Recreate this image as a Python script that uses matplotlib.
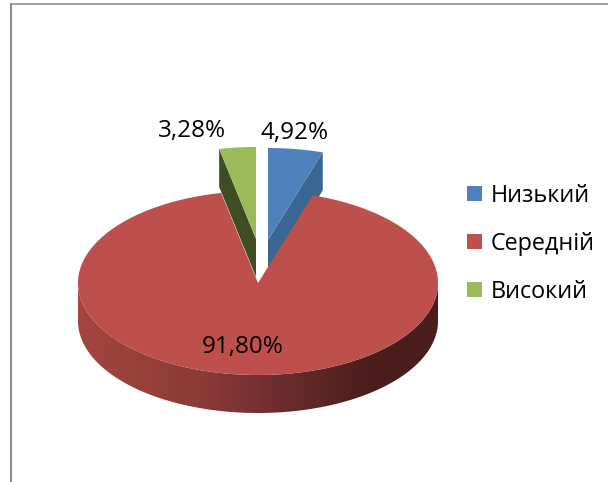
import numpy as np
import matplotlib
matplotlib.use('Agg')
import matplotlib.pyplot as plt
from matplotlib.colors import LinearSegmentedColormap
from matplotlib.patches import Polygon

categories = ['Низький', 'Середній', 'Високий']
values = [4.92, 91.80, 3.28]
colors = ['#4f81bd', '#bd4f4c', '#9bbb59']
dark = ['#3a6692', '#4a1d1b', '#3f4d24']

plt.rcParams['font.family'] = ['Open Sans', 'DejaVu Sans']

# pie geometry, in pixels of the picture
cx, cy = 258, 283
rx, ry = 180, 92
depth = 38
shift = {0: (10, -43), 2: (-2, -44)}  # exploded slices


def rim(a1, a2, x0, y0, n=200):
    t = np.radians(np.linspace(a1, a2, n))
    return x0 + rx*np.sin(t), y0 - ry*np.cos(t)


fig = plt.figure(figsize=(6.08, 4.82), dpi=100)
ax = fig.add_axes([0, 0, 1, 1])
ax.set_xlim(0, 608)
ax.set_ylim(482, 0)
ax.axis('off')

# frame of the chart area
ax.plot([11, 608], [3.7, 3.7], color='#a0a0a0', lw=1.4, solid_capstyle='butt')
ax.plot([11, 11], [482, 3], color='#8c8c8c', lw=1.5, solid_capstyle='butt')

edges = np.cumsum([0] + values) / sum(values) * 360

# small slices first, the big one covers their lower part
for i in [0, 2]:
    dx, dy = shift[i]
    x0, y0 = cx + dx, cy + dy
    xs, ys = rim(edges[i], edges[i+1], x0, y0)
    if i == 0:
        k = -1
    else:
        k = 0
    # inner wall
    wall = [(x0, y0), (xs[k], ys[k]), (xs[k], ys[k]+depth), (x0, y0+depth)]
    ax.add_patch(Polygon(wall, fc=dark[i], ec='none', zorder=2))
    top = np.column_stack([np.r_[x0, xs], np.r_[y0, ys]])
    ax.add_patch(Polygon(top, fc=colors[i], ec='none', zorder=3))

# side of the big slice with its gradient
xs, ys = rim(90, 270, cx, cy)
side = np.column_stack([np.r_[xs, xs[::-1]], np.r_[ys, ys[::-1]+depth]])
clip = Polygon(side, fc='none', ec='none', transform=ax.transData)
ax.add_patch(clip)
cmap = LinearSegmentedColormap.from_list('side', [(0, '#a4453f'), (0.35, '#8a3a37'),
                                                  (0.62, '#64292a'), (0.8, '#4b1d1b'), (1, '#4a1d1b')])
im = ax.imshow(np.linspace(0, 1, 256).reshape(1, -1), cmap=cmap, aspect='auto',
               extent=[cx-rx, cx+rx, cy+ry+depth+2, cy-2], zorder=4)
im.set_clip_path(clip)
ax.set_xlim(0, 608)
ax.set_ylim(482, 0)

xs, ys = rim(edges[1], edges[2], cx, cy, 500)
top = np.column_stack([np.r_[cx, xs], np.r_[cy, ys]])
ax.add_patch(Polygon(top, fc=colors[1], ec='none', zorder=5))

# data labels
labels = [f'{v:.2f}%'.replace('.', ',') for v in values]
label_xy = [(295, 133), (243, 346.5), (192, 131)]
for lab, (x, y) in zip(labels, label_xy):
    ax.text(x, y, lab, fontsize=17.5, color='black', ha='center', va='center', zorder=6)

# legend
leg_y = [193.5, 241.5, 289.5]
for name, c, y in zip(categories, colors, leg_y):
    ax.add_patch(Polygon([(467, y-7.5), (482, y-7.5), (482, y+7.5), (467, y+7.5)], fc=c, ec='none'))
    ax.text(491, y+2, name, fontsize=16.8, color='black', ha='left', va='center')

fig.savefig('out.png', dpi=100)
